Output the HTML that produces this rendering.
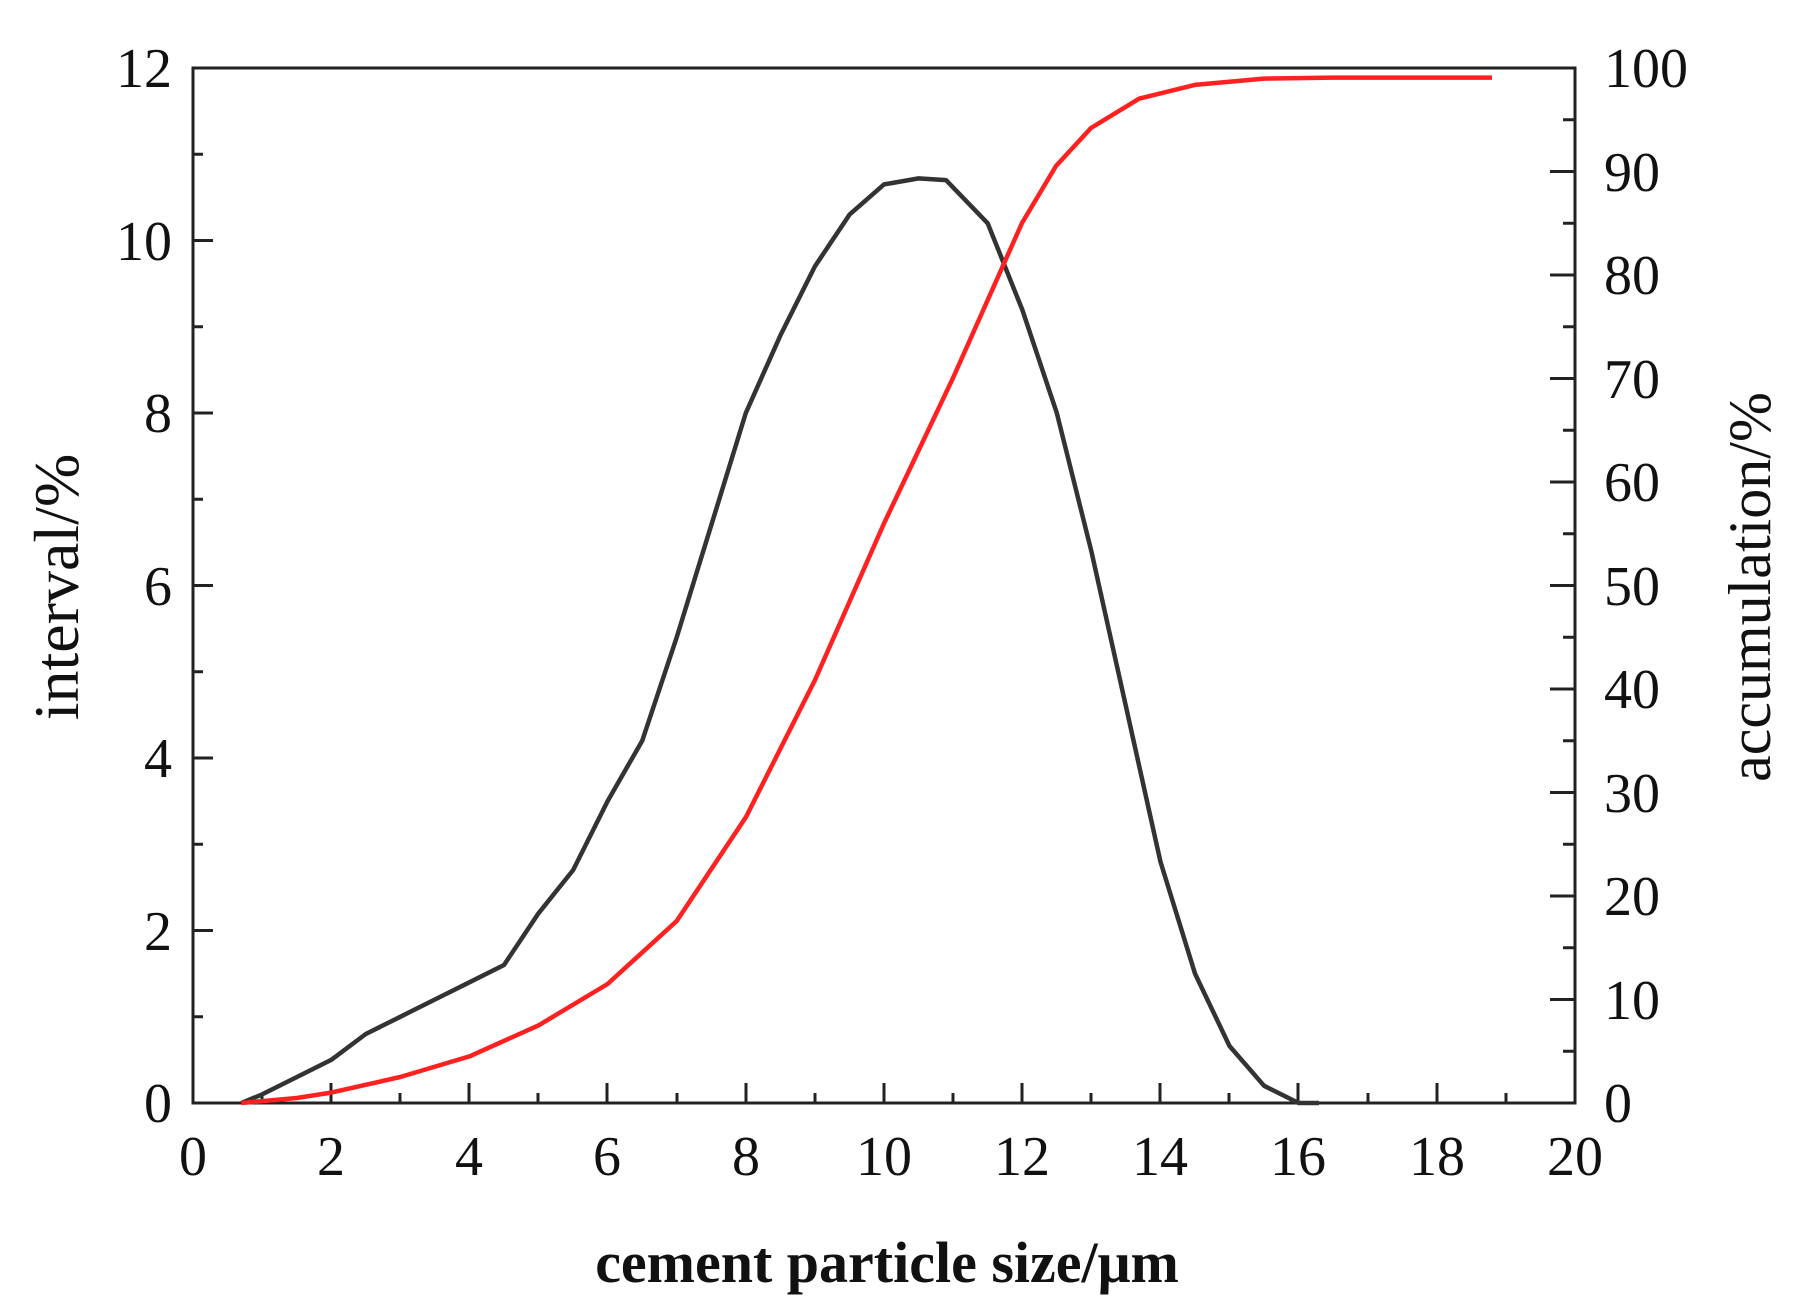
<!DOCTYPE html>
<html><head><meta charset="utf-8"><style>html,body{margin:0;padding:0;background:#fff}svg{display:block}</style></head>
<body>
<svg width="1794" height="1311" viewBox="0 0 1794 1311" xmlns="http://www.w3.org/2000/svg" font-family="Liberation Serif, serif">
<rect width="1794" height="1311" fill="#fff"/>
<g stroke="#222" stroke-width="3" fill="none">
<rect x="193" y="68" width="1382" height="1035"/>
<path d="M193 1103v-20M331 1103v-20M469 1103v-20M607 1103v-20M746 1103v-20M884 1103v-20M1022 1103v-20M1160 1103v-20M1298 1103v-20M1437 1103v-20M1575 1103v-20"/>
<path d="M262 1103v-10M400 1103v-10M538 1103v-10M677 1103v-10M815 1103v-10M953 1103v-10M1091 1103v-10M1229 1103v-10M1368 1103v-10M1506 1103v-10"/>
<path d="M193 930.5h20M193 758h20M193 585.5h20M193 413h20M193 240.5h20"/>
<path d="M193 1016.8h10M193 844.3h10M193 671.8h10M193 499.3h10M193 326.8h10M193 154.3h10"/>
<path d="M1575 999.5h-25M1575 896h-25M1575 792.5h-25M1575 689h-25M1575 585.5h-25M1575 482h-25M1575 378.5h-25M1575 275h-25M1575 171.5h-25"/>
<path d="M1575 1051.3h-12M1575 947.8h-12M1575 844.3h-12M1575 740.8h-12M1575 637.3h-12M1575 533.8h-12M1575 430.3h-12M1575 326.8h-12M1575 223.3h-12M1575 119.8h-12"/>
</g>
<g font-size="56" fill="#111">
<g text-anchor="middle">
<text x="193" y="1175">0</text><text x="331" y="1175">2</text><text x="469" y="1175">4</text><text x="607" y="1175">6</text><text x="746" y="1175">8</text><text x="884" y="1175">10</text><text x="1022" y="1175">12</text><text x="1160" y="1175">14</text><text x="1298" y="1175">16</text><text x="1437" y="1175">18</text><text x="1575" y="1175">20</text>
</g>
<g text-anchor="end">
<text x="172" y="1122">0</text><text x="172" y="950">2</text><text x="172" y="777">4</text><text x="172" y="605">6</text><text x="172" y="432">8</text><text x="172" y="260">10</text><text x="172" y="87">12</text>
</g>
<g text-anchor="start">
<text x="1604" y="1122">0</text><text x="1604" y="1019">10</text><text x="1604" y="915">20</text><text x="1604" y="812">30</text><text x="1604" y="708">40</text><text x="1604" y="605">50</text><text x="1604" y="501">60</text><text x="1604" y="398">70</text><text x="1604" y="294">80</text><text x="1604" y="191">90</text><text x="1604" y="87">100</text>
</g>
</g>
<text x="0" y="0" font-size="64" fill="#111" text-anchor="middle" transform="translate(78 587) rotate(-90)">interval/%</text>
<text x="0" y="0" font-size="60" fill="#111" text-anchor="middle" transform="translate(1770 587) rotate(-90)">accumulation/%</text>
<text x="887" y="1282" font-size="58" font-weight="bold" fill="#111" text-anchor="middle">cement particle size/μm</text>
<polyline fill="none" stroke="#333" stroke-width="4.5" stroke-linejoin="round" points="241.4,1103 262.1,1094.4 296.7,1077.1 331.2,1059.9 365.8,1034 400.3,1016.8 434.9,999.5 469.4,982.3 504,965 538.5,913.3 573.1,870.1 607.6,801.1 642.2,740.8 676.7,637.3 711.3,525.1 745.8,413 780.4,335.4 814.9,266.4 849.5,214.6 884,184.4 918.6,178.4 946,180.1 987.7,223.3 1022.2,309.5 1056.8,413 1091.3,551 1125.9,706.3 1160.4,861.5 1195,973.6 1229.5,1046 1264.1,1085.8 1298.6,1103 1319,1103"/>
<polyline fill="none" stroke="#ff2020" stroke-width="4.5" stroke-linejoin="round" points="241.4,1103 296.7,1098 331.2,1092.6 400.3,1077 469.4,1056.4 538.5,1025.4 607.6,984 676.7,921 746,817 815,680 884,523.4 953,378 1022,223 1056,166 1091,128 1139.3,98.6 1194.8,84.9 1263.9,78.6 1333,77.6 1492,77.6"/>
</svg>
</body></html>
